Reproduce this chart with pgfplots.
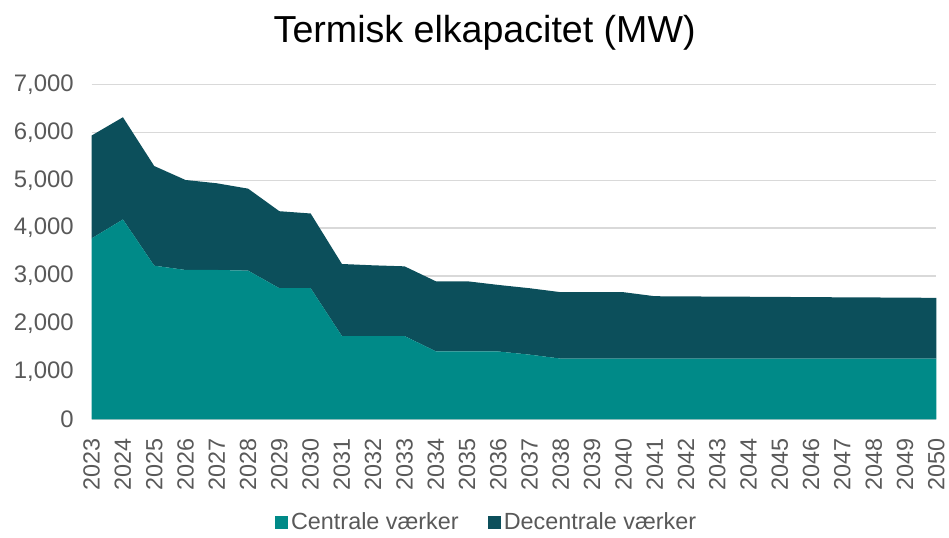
\documentclass[border=0pt]{standalone}
\usepackage{fontspec}
\setmainfont{Liberation Sans}
\usepackage{pgfplots}
\pgfplotsset{compat=1.18}

\definecolor{central}{RGB}{0,138,136}
\definecolor{decentral}{RGB}{12,79,91}
\definecolor{gridgray}{RGB}{217,217,217}
\definecolor{labelgray}{RGB}{89,89,89}

\begin{document}
\begin{tikzpicture}
\path[use as bounding box] (-69pt,-89.3pt) rectangle (645.5pt,315.75pt);
\begin{axis}[
    name=ax,
    at={(0pt,0pt)},
    anchor=south west,
    scale only axis,
    width=636pt, height=252pt,
    stack plots=y,
    xmin=2023, xmax=2050,
    ymin=0, ymax=7000,
    xtick={2023,...,2050},
    ytick={0,1000,...,7000},
    axis line style={draw=none},
    major tick length=0pt,
    ymajorgrids,
    grid style={gridgray, line width=1.1pt},
    /pgf/number format/assume math mode=true,
    yticklabel style={font=\fontsize{18}{20}\selectfont, text=labelgray,
        /pgf/number format/1000 sep={,}, xshift=-10pt},
    xticklabel style={font=\fontsize{17.6}{20}\selectfont, text=labelgray,
        /pgf/number format/1000 sep={}, rotate=90, anchor=east},
    xticklabel shift=11pt,
    legend style={at={(0.468,-0.307)}, anchor=center, draw=none,
        font=\fontsize{17.6}{20}\selectfont, text=labelgray, legend columns=-1,
        /tikz/every even column/.append style={column sep=20pt}},
    legend image code/.code={\fill[#1] (0pt,-5pt) rectangle (10pt,5pt);},
]
% Centrale værker
\addplot[fill=central, draw=none] coordinates {
(2023,3785) (2024,4181) (2025,3215) (2026,3125) (2027,3125) (2028,3111)
(2029,2743) (2030,2743) (2031,1743) (2032,1743) (2033,1743) (2034,1424)
(2035,1424) (2036,1420) (2037,1354) (2038,1271) (2039,1271) (2040,1271)
(2041,1271) (2042,1271) (2043,1271) (2044,1271) (2045,1271) (2046,1271)
(2047,1271) (2048,1271) (2049,1271) (2050,1271)
} \closedcycle;
% Decentrale værker
\addplot[fill=decentral, draw=none] coordinates {
(2023,2152) (2024,2138) (2025,2084) (2026,1882) (2027,1813) (2028,1715)
(2029,1611) (2030,1563) (2031,1507) (2032,1479) (2033,1458) (2034,1465)
(2035,1465) (2036,1392) (2037,1389) (2038,1389) (2039,1389) (2040,1389)
(2041,1305) (2042,1301) (2043,1297) (2044,1294) (2045,1290) (2046,1286)
(2047,1282) (2048,1279) (2049,1275) (2050,1271)
} \closedcycle;
\legend{Centrale værker, Decentrale værker}
\end{axis}
\node[font=\fontsize{28.3}{32}\selectfont, anchor=center] at (295.9pt,291pt) {Termisk elkapacitet (MW)};
\end{tikzpicture}
\end{document}
